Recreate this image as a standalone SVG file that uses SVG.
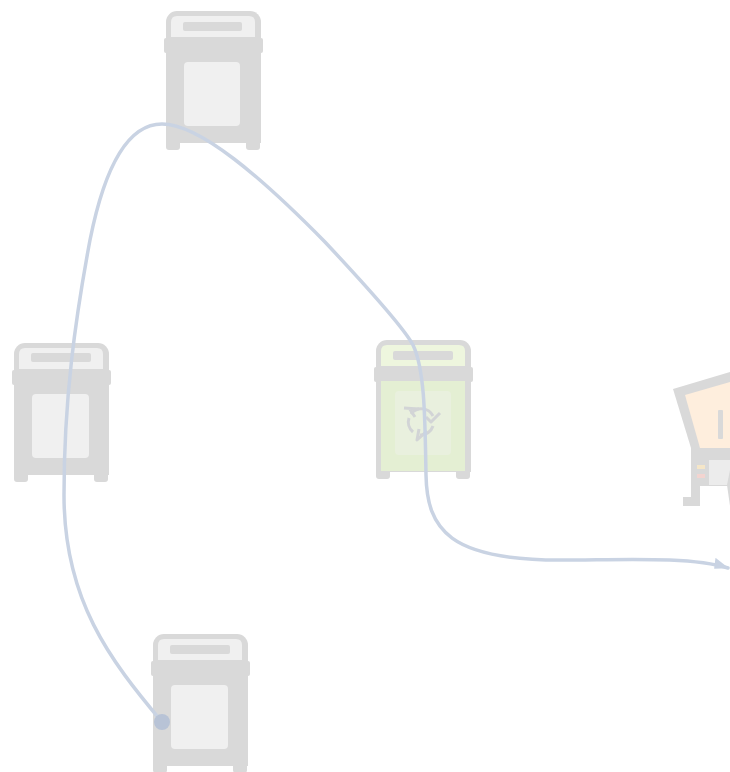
<svg xmlns="http://www.w3.org/2000/svg" width="730" height="772" viewBox="0 0 730 772">
<style>
.g{fill:#d9d9d9}
.l{fill:#f0f0f0}
.conn{fill:none;stroke:#c9d3e3;stroke-width:3.5;stroke-linecap:round}
.ico{fill:none;stroke:#d2d4d6;stroke-width:3;stroke-linejoin:round}
</style>
<defs>
<filter id="soft" x="-5%" y="-5%" width="110%" height="110%"><feGaussianBlur stdDeviation="0.5"/></filter>
<marker id="arr" markerWidth="18" markerHeight="14" refX="15" refY="6" orient="auto" markerUnits="userSpaceOnUse"><path d="M0 0L16 6L2 11Z" fill="#c9d3e3"/></marker>
<symbol id="bin" width="100" height="140" viewBox="0 0 100 140" overflow="visible">
<rect class="g" x="2" y="0" width="95" height="50" rx="11"/>
<rect class="g" x="2" y="40" width="95" height="92"/>
<rect class="g" x="2" y="125" width="14" height="14" rx="3"/>
<rect class="g" x="82" y="125" width="14" height="14" rx="3"/>
<rect class="g" x="0" y="27" width="99" height="15" rx="2"/>
</symbol>
</defs>
<g id="bin-top" filter="url(#soft)">
<use href="#bin" x="164" y="11"/>
<path class="l" d="M171 37V22q0-6 6-6H249q6 0 6 6V37H175Z"/>
<rect class="g" x="183" y="22" width="59" height="9" rx="2"/>
<rect class="l" x="184" y="62" width="56" height="64" rx="4"/>
</g>
<g id="bin-left" filter="url(#soft)">
<use href="#bin" x="12" y="343"/>
<path class="l" d="M19 369V354q0-6 6-6H97q6 0 6 6V369H23Z"/>
<rect class="g" x="31" y="353" width="60" height="9" rx="2"/>
<rect class="l" x="32" y="394" width="57" height="64" rx="4"/>
</g>
<g id="bin-recycle" filter="url(#soft)">
<use href="#bin" x="374" y="340"/>
<path d="M381 366V351q0-6 6-6H459q6 0 6 6V366H385Z" fill="#eef6de"/>
<rect class="g" x="393" y="351" width="60" height="9" rx="2"/>
<rect x="381" y="381" width="84" height="90" fill="#e4efd3"/>
<rect x="395" y="391" width="56" height="64" rx="4" fill="#e9f0de"/>
<path class="ico" d="M411 414a13 13 0 0 1 22 2M433 426a13 13 0 0 1-13 9M413 432a13 13 0 0 1-4-14"/>
<path class="ico" d="M404 408L419 409M409 408L415 417M440 413L431 422L426 417M419 429L417 440L427 431"/>
</g>
<g id="bin-bottom" filter="url(#soft)">
<use href="#bin" x="151" y="634"/>
<path class="l" d="M158 660V645q0-6 6-6H236q6 0 6 6V660H162Z"/>
<rect class="g" x="170" y="645" width="60" height="9" rx="2"/>
<rect class="l" x="171" y="685" width="57" height="64" rx="4"/>
</g>
<g id="machine" filter="url(#soft)">
<path class="g" d="M673 389L730 372V448H691Z"/>
<path d="M685 395L730 382V448H700Z" fill="#feeedd"/>
<rect class="g" x="718" y="410" width="5" height="29" rx="1"/>
<rect class="g" x="691" y="448" width="39" height="38"/>
<rect x="709" y="460" width="21" height="25" fill="#ececec"/>
<rect x="697" y="465" width="8" height="4" fill="#f5e6c8"/>
<rect x="697" y="474" width="8" height="4" fill="#f3d4d0"/>
<rect class="g" x="691" y="485" width="9" height="21"/>
<rect class="g" x="683" y="497" width="17" height="9"/>
<path class="g" d="M730 470L727 485L730 506Z"/>
</g>
<g id="connectors">
<path class="conn" marker-end="url(#arr)" d="M162 722C110 660 64 600 64 495C64 400 75 320 90 240C105 165 128 124 162 124C200 124 262 178 325 242C370 290 405 330 413 345C425 370 425 420 426 475C427 530 450 560 560 560C620 560 690 556 728 568"/>
<circle id="start-dot" cx="162" cy="722" r="8" fill="#b8c3d6"/>
</g>
</svg>
